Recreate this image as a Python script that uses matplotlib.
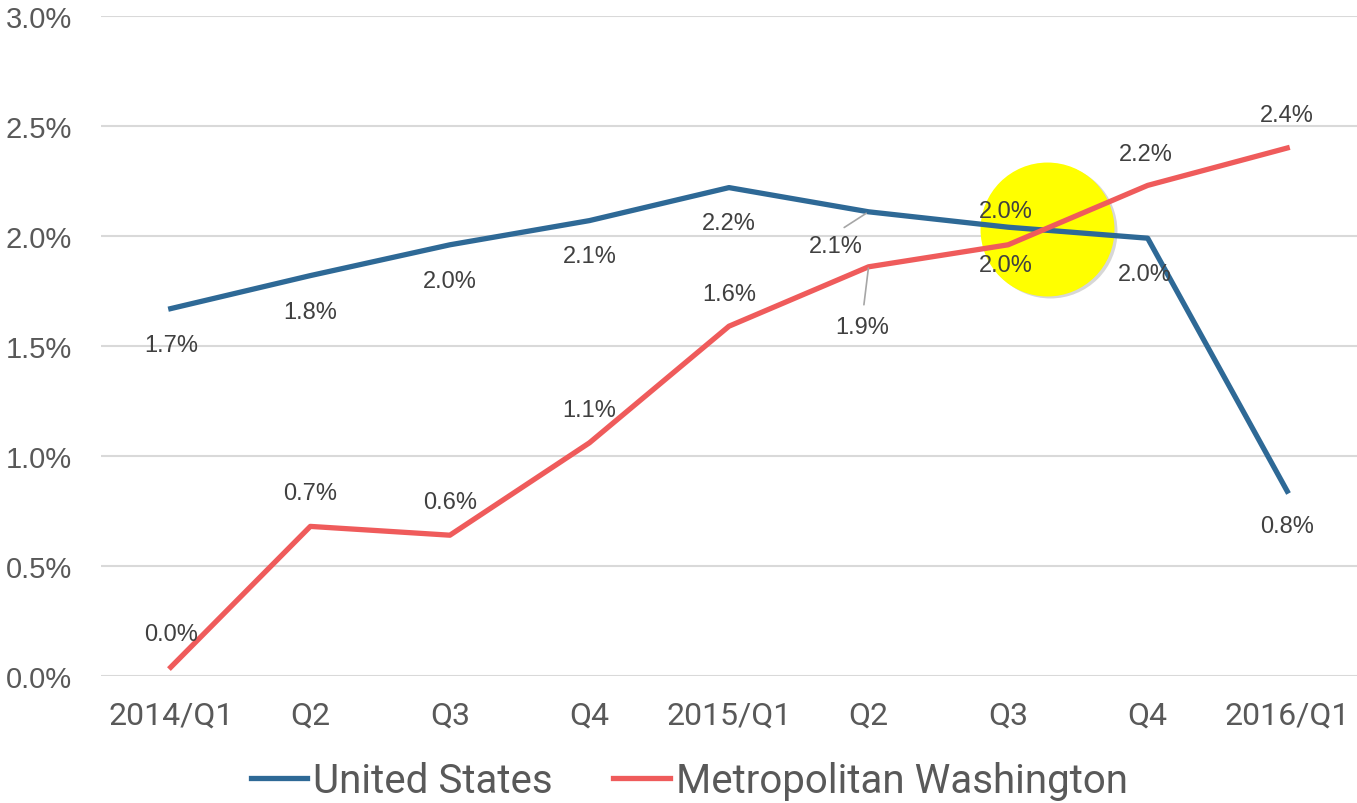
import matplotlib.pyplot as plt

quarters = ["2014/Q1", "Q2", "Q3", "Q4", "2015/Q1", "Q2", "Q3", "Q4", "2016/Q1"]
us = [1.67, 1.82, 1.96, 2.07, 2.22, 2.11, 2.04, 1.99, 0.84]
metro = [0.04, 0.68, 0.64, 1.06, 1.59, 1.86, 1.96, 2.23, 2.40]
us_labels = ["1.7%", "1.8%", "2.0%", "2.1%", "2.2%", "2.1%", "2.0%", "2.0%", "0.8%"]
metro_labels = ["0.0%", "0.7%", "0.6%", "1.1%", "1.6%", "1.9%", "2.0%", "2.2%", "2.4%"]
yticks = [0, 0.5, 1.0, 1.5, 2.0, 2.5, 3.0]

blue = "#2E6996"
red = "#EF5B5B"
txt = "#404040"

fig = plt.figure(figsize=(13.57, 8.04), dpi=100)
ax = fig.add_axes([101 / 1357, 1 - 677 / 804, 1 - 101 / 1357, (677 - 17) / 804])

x = list(range(len(quarters)))

# highlight circle where the lines cross
ax.scatter([6.28 + 0.02], [2.025], s=9300, color="#b0b0b0", alpha=0.5, zorder=1, linewidths=0)
ax.scatter([6.28], [2.032], s=9300, color="#FFFF00", zorder=2, linewidths=0)

ax.plot(x, us, color=blue, lw=3.8, label="United States", zorder=3, solid_joinstyle="round")
ax.plot(x, metro, color=red, lw=3.8, label="Metropolitan Washington", zorder=3, solid_joinstyle="round")

# label offsets in pixels
us_off = [(0, -36), (0, -36), (0, -36), (0, -35), (0, -35), (-33, -34), (-2, 16), (-3, -36), (0, -35)]
metro_off = [(0, 33), (0, 33), (0, 33), (0, 33), (0, 32), (-6, -60), (-2, -20), (-2, 31), (0, 33)]

lead = dict(arrowstyle="-", color="#a6a6a6", lw=1.2)
for i in x:
    kw = {}
    if i == 5:
        kw = dict(arrowprops=dict(lead, relpos=(0.45, 1.0), shrinkA=6, shrinkB=2))
    ax.annotate(us_labels[i], (i, us[i]), xytext=us_off[i], textcoords="offset pixels",
                ha="center", va="center", fontsize=17, color=txt,
                family="Liberation Sans", zorder=5, **kw)
    kw = {}
    if i == 5:
        kw = dict(arrowprops=dict(lead, relpos=(0.5, 1.0), shrinkA=6, shrinkB=1))
    ax.annotate(metro_labels[i], (i, metro[i]), xytext=metro_off[i], textcoords="offset pixels",
                ha="center", va="center", fontsize=17, color=txt,
                family="Liberation Sans", zorder=5, **kw)

ax.set_xlim(-0.5, 8.5)
ax.set_ylim(0, 3.0)
ax.set_yticks(yticks)
ax.set_yticklabels([f"{v:.1f}%" for v in yticks], fontsize=21, color="#595959",
                   family="Liberation Sans")
ax.set_xticks(x)
ax.set_xticklabels(quarters, fontsize=23, color="#595959", family="Roboto")
ax.tick_params(length=0, axis="both")
ax.tick_params(axis="y", pad=21)
ax.tick_params(axis="x", pad=18)
ax.grid(axis="y", color="#d9d9d9", lw=1.5)
ax.set_axisbelow(True)
for s in ax.spines.values():
    s.set_visible(False)

fig.legend(loc="center", bbox_to_anchor=(0.508, 0.028), ncol=2, frameon=False,
           prop={"family": "Roboto", "size": 29},
           labelcolor="#595959", handlelength=1.4, handletextpad=0.15, columnspacing=1.5)

fig.savefig("out.png", dpi=100)
